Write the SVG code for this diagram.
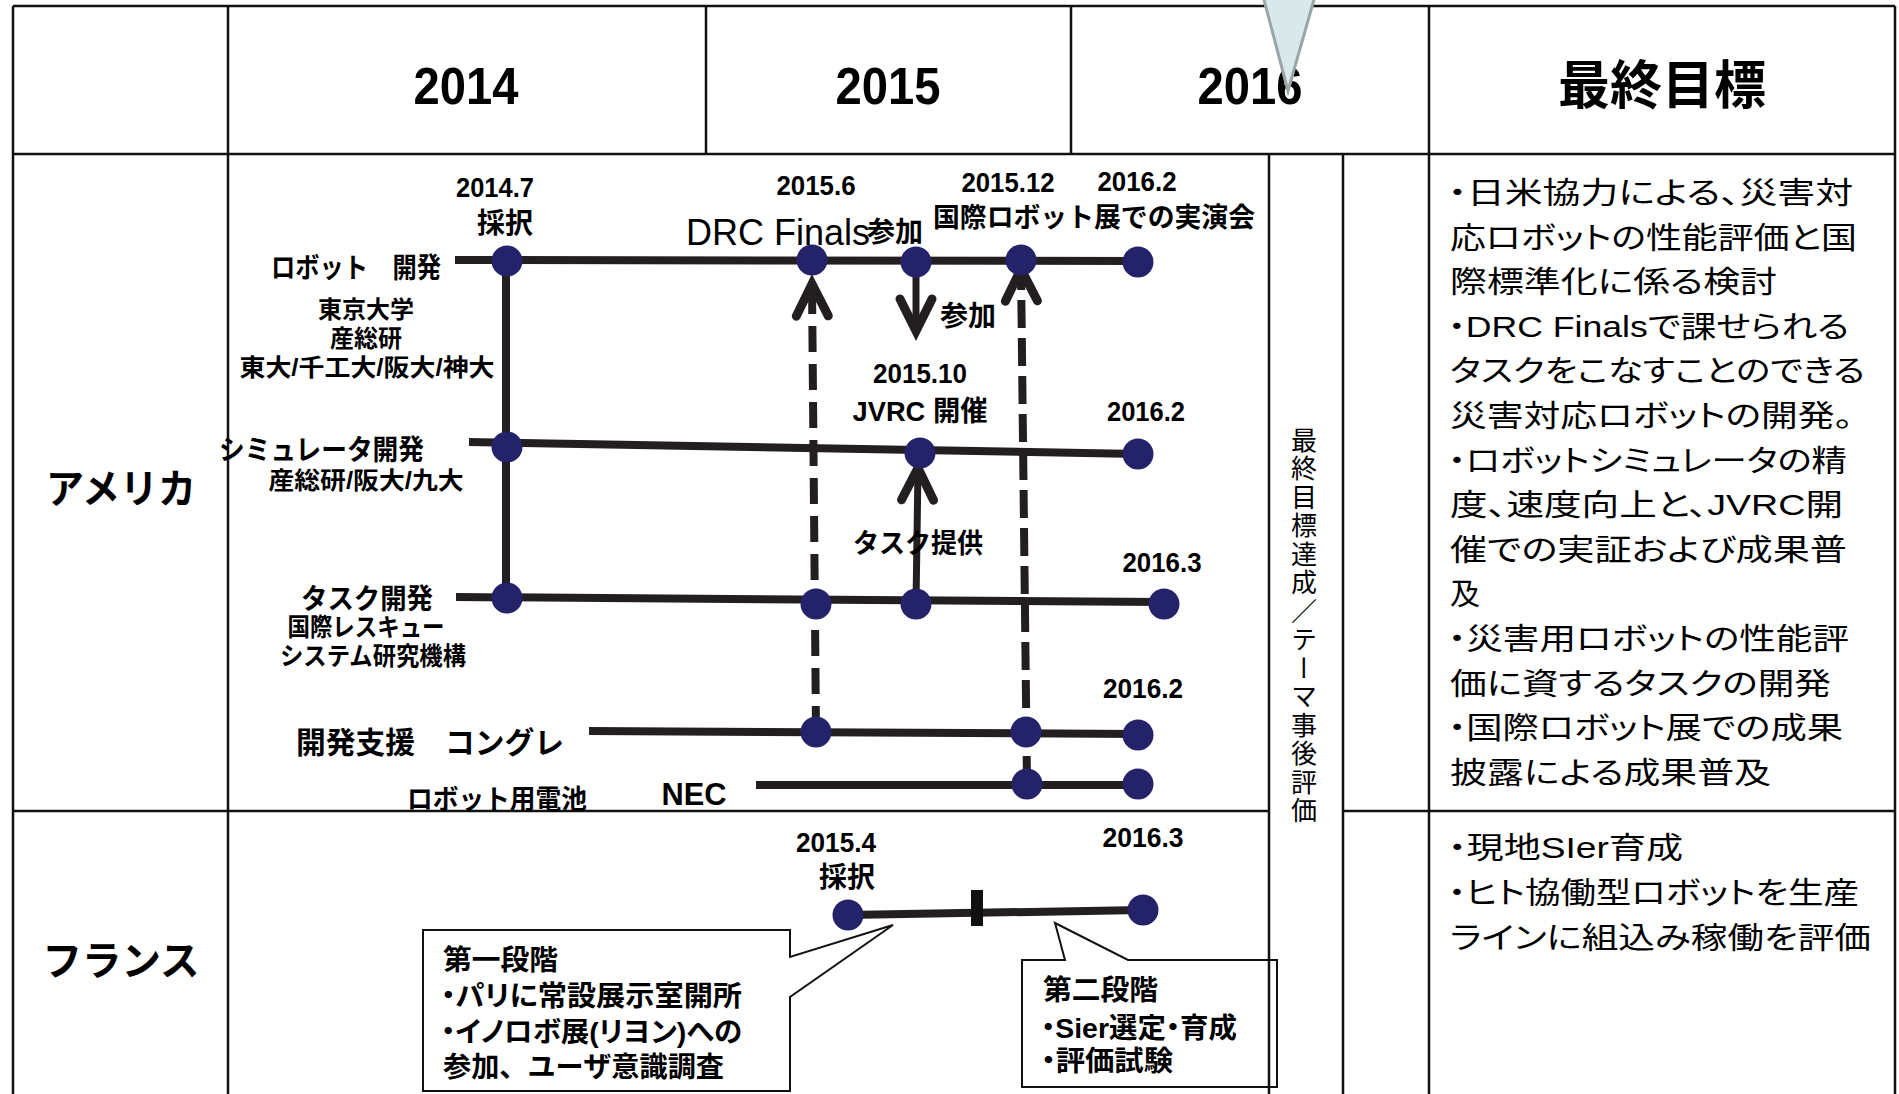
<svg xmlns="http://www.w3.org/2000/svg" width="1899" height="1094" viewBox="0 0 1899 1094">
<style>
text{font-family:"Liberation Sans","Noto Sans CJK JP",sans-serif;fill:#000}
.b{font-weight:700}
.r{font-weight:400}
.c{text-anchor:middle}
.jp{font-family:"Noto Sans CJK JP",sans-serif}
.p{font-feature-settings:"palt"}
.g{font-size:30px;font-weight:400;font-feature-settings:"palt"}
.grid{stroke:#111;stroke-width:2.5;fill:none}
.tl{stroke:#231f20;stroke-width:8;fill:none}
.dash{stroke:#231f20;stroke-width:8;fill:none}
.arr{stroke:#231f20;stroke-width:7;fill:none}
.node{fill:#24236a}
.call{fill:#fff;stroke:#111;stroke-width:2}
</style>
<defs>
<marker id="chev" markerUnits="userSpaceOnUse" markerWidth="50" markerHeight="50" refX="0" refY="0" orient="auto" overflow="visible">
<path d="M-32,-16 L0,0 L-32,16" fill="none" stroke="#231f20" stroke-width="9" stroke-linecap="round" stroke-linejoin="miter"/>
</marker>
</defs>
<rect x="0" y="0" width="1899" height="1094" fill="#fff"/>

<g id="table">
<line class="grid" x1="13" y1="6" x2="1895" y2="6" stroke-width="3"/>
<line class="grid" x1="13" y1="6" x2="13" y2="1094"/>
<line class="grid" x1="1895" y1="6" x2="1895" y2="1094"/>
<line class="grid" x1="13" y1="154" x2="1895" y2="154" stroke-width="3"/>
<line class="grid" x1="228" y1="6" x2="228" y2="1094"/>
<line class="grid" x1="706" y1="6" x2="706" y2="154"/>
<line class="grid" x1="1071" y1="6" x2="1071" y2="154"/>
<line class="grid" x1="1429" y1="6" x2="1429" y2="1094"/>
<line class="grid" x1="13" y1="811" x2="1269" y2="811"/>
<line class="grid" x1="1343" y1="811" x2="1895" y2="811"/>
</g>

<g id="header">
<text class="b c" x="466" y="104" font-size="52" textLength="105" lengthAdjust="spacingAndGlyphs">2014</text>
<text class="b c" x="888" y="104" font-size="52" textLength="105" lengthAdjust="spacingAndGlyphs">2015</text>
<text class="b c" x="1250" y="104" font-size="52" textLength="105" lengthAdjust="spacingAndGlyphs">2016</text>
<text class="b c jp" x="1662" y="104" font-size="52">最終目標</text>
</g>

<g id="row-labels">
<text class="b c jp" x="121" y="503" font-size="40" textLength="150" lengthAdjust="spacingAndGlyphs">アメリカ</text>
<text class="b c jp" x="121" y="975" font-size="40" textLength="157" lengthAdjust="spacingAndGlyphs">フランス</text>
</g>

<g id="connectors">
<line class="tl" x1="455" y1="260" x2="1138" y2="261"/>
<line class="tl" x1="469" y1="442" x2="1138" y2="454"/>
<line class="tl" x1="456" y1="597" x2="1163" y2="602"/>
<line class="tl" x1="589" y1="731" x2="1138" y2="734"/>
<line class="tl" x1="756" y1="785" x2="1138" y2="785"/>
<line class="tl" x1="848" y1="915" x2="1143" y2="910"/>
<line class="tl" x1="506" y1="260" x2="506" y2="598"/>
<rect x="971" y="890" width="12" height="36" fill="#111"/>
<path class="dash" d="M816,732 L812,284" stroke-dasharray="26 12" marker-end="url(#chev)"/>
<path class="dash" d="M1027,784 L1021,269" stroke-dasharray="28 10" marker-end="url(#chev)"/>
<path class="arr" d="M916,262 L916,331" marker-end="url(#chev)"/>
<path class="arr" d="M916,604 L918,468" marker-end="url(#chev)"/>
</g>

<g id="robot-dev">
<text class="b" x="271" y="278" font-size="28" textLength="170" lengthAdjust="spacingAndGlyphs">ロボット　開発</text>
<text class="b c" x="366" y="318" font-size="24">東京大学</text>
<text class="b c" x="366" y="347" font-size="24">産総研</text>
<text class="b c" x="367" y="376" font-size="24" textLength="255" lengthAdjust="spacingAndGlyphs">東大/千工大/阪大/神大</text>
<text class="b c" x="495" y="197" font-size="28" textLength="78" lengthAdjust="spacingAndGlyphs">2014.7</text>
<text class="b c" x="505" y="233" font-size="28">採択</text>
<text class="b c" x="816" y="195" font-size="28" textLength="79" lengthAdjust="spacingAndGlyphs">2015.6</text>
<text class="r" x="686" y="245" font-size="36">DRC Finals<tspan class="b" font-size="28" dx="-3" dy="-3">参加</tspan></text>
<text class="b c" x="1008" y="192" font-size="28" textLength="93" lengthAdjust="spacingAndGlyphs">2015.12</text>
<text class="b c" x="1137" y="191" font-size="28" textLength="79" lengthAdjust="spacingAndGlyphs">2016.2</text>
<text class="b c" x="1094" y="227" font-size="27" textLength="322" lengthAdjust="spacingAndGlyphs">国際ロボット展での実演会</text>
<text class="b c" x="968" y="326" font-size="28">参加</text>
<circle class="node" cx="507" cy="261" r="15.5"/>
<circle class="node" cx="812" cy="260" r="15.5"/>
<circle class="node" cx="916" cy="262" r="15.5"/>
<circle class="node" cx="1021" cy="260" r="15.5"/>
<circle class="node" cx="1138" cy="262" r="15.5"/>
</g>

<g id="simulator-dev">
<text class="b" x="219" y="460" font-size="28" textLength="205" lengthAdjust="spacingAndGlyphs">シミュレータ開発</text>
<text class="b c" x="366" y="489" font-size="24" textLength="195" lengthAdjust="spacingAndGlyphs">産総研/阪大/九大</text>
<text class="b c" x="920" y="383" font-size="28" textLength="94" lengthAdjust="spacingAndGlyphs">2015.10</text>
<text class="b c" x="920" y="421" font-size="28" textLength="135" lengthAdjust="spacingAndGlyphs">JVRC 開催</text>
<text class="b c" x="1146" y="421" font-size="28" textLength="78" lengthAdjust="spacingAndGlyphs">2016.2</text>
<circle class="node" cx="507" cy="447" r="15.5"/>
<circle class="node" cx="920" cy="453" r="15.5"/>
<circle class="node" cx="1138" cy="454" r="15.5"/>
</g>

<g id="task-dev">
<text class="b c" x="918" y="553" font-size="27" textLength="130" lengthAdjust="spacingAndGlyphs">タスク提供</text>
<text class="b c" x="367" y="609" font-size="28" textLength="132" lengthAdjust="spacingAndGlyphs">タスク開発</text>
<text class="b c" x="366" y="636" font-size="25" textLength="157" lengthAdjust="spacingAndGlyphs">国際レスキュー</text>
<text class="b c" x="373" y="665" font-size="25" textLength="186" lengthAdjust="spacingAndGlyphs">システム研究機構</text>
<text class="b c" x="1162" y="572" font-size="28" textLength="79" lengthAdjust="spacingAndGlyphs">2016.3</text>
<circle class="node" cx="507" cy="598" r="15.5"/>
<circle class="node" cx="816" cy="604" r="15.5"/>
<circle class="node" cx="916" cy="604" r="15.5"/>
<circle class="node" cx="1164" cy="604" r="15.5"/>
</g>

<g id="dev-support">
<text class="b" x="296" y="753" font-size="30" textLength="268" lengthAdjust="spacingAndGlyphs">開発支援　コングレ</text>
<text class="b c" x="1143" y="698" font-size="28" textLength="80" lengthAdjust="spacingAndGlyphs">2016.2</text>
<circle class="node" cx="816" cy="732" r="15.5"/>
<circle class="node" cx="1026" cy="732" r="15.5"/>
<circle class="node" cx="1138" cy="735" r="15.5"/>
</g>

<g id="battery">
<text class="b c" x="497" y="809" font-size="27" textLength="180" lengthAdjust="spacingAndGlyphs">ロボット用電池</text>
<text class="b c" x="694" y="805" font-size="32" textLength="65" lengthAdjust="spacingAndGlyphs">NEC</text>
<circle class="node" cx="1027" cy="784" r="15.5"/>
<circle class="node" cx="1138" cy="784" r="15.5"/>
</g>

<g id="france">
<text class="b c" x="836" y="852" font-size="28" textLength="80" lengthAdjust="spacingAndGlyphs">2015.4</text>
<text class="b c" x="847" y="887" font-size="28">採択</text>
<text class="b c" x="1143" y="847" font-size="28" textLength="81" lengthAdjust="spacingAndGlyphs">2016.3</text>
<circle class="node" cx="848" cy="915" r="15.5"/>
<circle class="node" cx="1143" cy="910" r="15.5"/>
</g>

<g id="callout-phase1">
<path class="call" d="M423,930 H790 V957 L893,925 L790,997 V1091 H423 Z"/>
<text class="b" x="443" y="970" font-size="28" textLength="115" lengthAdjust="spacingAndGlyphs">第一段階</text>
<text class="b p" x="441" y="1006" font-size="28" textLength="301" lengthAdjust="spacingAndGlyphs">・パリに常設展示室開所</text>
<text class="b p" x="441" y="1042" font-size="28" textLength="301" lengthAdjust="spacingAndGlyphs">・イノロボ展(リヨン)への</text>
<text class="b" x="443" y="1077" font-size="28" textLength="281" lengthAdjust="spacingAndGlyphs">参加、ユーザ意識調査</text>
</g>

<g id="callout-phase2">
<path class="call" d="M1022,960 H1065 L1055,923 L1128,960 H1277 V1087 H1022 Z"/>
<text class="b" x="1043" y="1000" font-size="28" textLength="115" lengthAdjust="spacingAndGlyphs">第二段階</text>
<text class="b p" x="1041" y="1038" font-size="28" textLength="196" lengthAdjust="spacingAndGlyphs">・Sier選定・育成</text>
<text class="b p" x="1041" y="1071" font-size="28" textLength="132" lengthAdjust="spacingAndGlyphs">・評価試験</text>
</g>

<g id="evaluation-column">
<line class="grid" x1="1269" y1="154" x2="1269" y2="1094"/>
<line class="grid" x1="1343" y1="154" x2="1343" y2="1094"/>
<text class="r jp" x="1304" y="427" font-size="26" letter-spacing="2.5" style="writing-mode:vertical-rl;text-orientation:upright">最終目標達成／テーマ事後評価</text>
</g>

<g id="goal-usa">
<text class="g" x="1448" y="203" textLength="405" lengthAdjust="spacingAndGlyphs">・日米協力による、災害対</text>
<text class="g" x="1450" y="248" textLength="407" lengthAdjust="spacingAndGlyphs">応ロボットの性能評価と国</text>
<text class="g" x="1450" y="292" textLength="327" lengthAdjust="spacingAndGlyphs">際標準化に係る検討</text>
<text class="g" x="1448" y="337" textLength="401" lengthAdjust="spacingAndGlyphs">・DRC Finalsで課せられる</text>
<text class="g" x="1450" y="381" textLength="415" lengthAdjust="spacingAndGlyphs">タスクをこなすことのできる</text>
<text class="g" x="1450" y="426" textLength="403" lengthAdjust="spacingAndGlyphs">災害対応ロボットの開発。</text>
<text class="g" x="1448" y="471" textLength="399" lengthAdjust="spacingAndGlyphs">・ロボットシミュレータの精</text>
<text class="g" x="1450" y="515" textLength="393" lengthAdjust="spacingAndGlyphs">度、速度向上と、JVRC開</text>
<text class="g" x="1450" y="560" textLength="397" lengthAdjust="spacingAndGlyphs">催での実証および成果普</text>
<text class="g" x="1450" y="604">及</text>
<text class="g" x="1448" y="649" textLength="401" lengthAdjust="spacingAndGlyphs">・災害用ロボットの性能評</text>
<text class="g" x="1450" y="694" textLength="381" lengthAdjust="spacingAndGlyphs">価に資するタスクの開発</text>
<text class="g" x="1448" y="738" textLength="395" lengthAdjust="spacingAndGlyphs">・国際ロボット展での成果</text>
<text class="g" x="1450" y="783" textLength="321" lengthAdjust="spacingAndGlyphs">披露による成果普及</text>
</g>

<g id="goal-france">
<text class="g" x="1448" y="858" textLength="235" lengthAdjust="spacingAndGlyphs">・現地SIer育成</text>
<text class="g" x="1448" y="903" textLength="411" lengthAdjust="spacingAndGlyphs">・ヒト協働型ロボットを生産</text>
<text class="g" x="1450" y="948" textLength="421" lengthAdjust="spacingAndGlyphs">ラインに組込み稼働を評価</text>
</g>

<g id="pointer">
<polygon points="1263,-4 1315,-4 1288,91" fill="#d9e9eb" stroke="#9aa6a6" stroke-width="3"/>
</g>
</svg>
